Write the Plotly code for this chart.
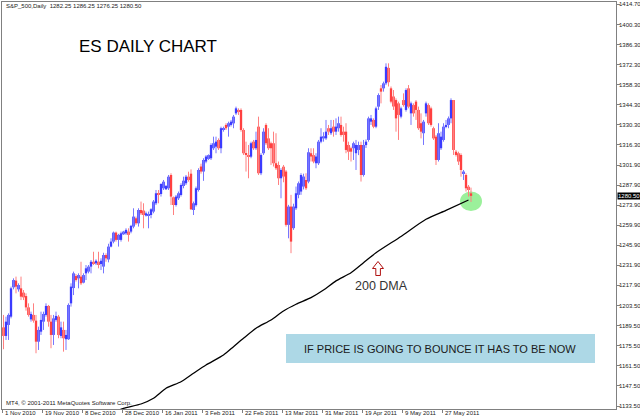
import plotly.graph_objects as go

# ---------------- data ----------------
open_ = [
    1188.5, 1182.5, 1190.2, 1196.0, 1216.5, 1221.2, 1215.1, 1215.8, 1212.8, 1210.4,
    1202.5, 1194.1, 1197.2, 1193.2, 1178.5, 1185.5, 1192.5, 1197.2, 1203.5, 1192.5,
    1183.2, 1193.7, 1196.0, 1182.5, 1186.7, 1180.2, 1180.2, 1205.3, 1216.0, 1224.4,
    1222.8, 1224.0, 1219.8, 1226.3, 1227.5, 1231.0, 1234.4, 1233.3, 1234.4, 1232.8,
    1231.0, 1239.1, 1236.0, 1245.0, 1248.5, 1254.8, 1249.7, 1249.7, 1253.6, 1254.3,
    1255.5, 1255.5, 1259.0, 1264.8, 1261.3, 1270.6, 1270.2, 1266.7, 1266.7, 1267.1,
    1269.5, 1275.3, 1282.3, 1281.8, 1285.8, 1285.1, 1285.8, 1295.1, 1279.5, 1274.1,
    1278.8, 1281.1, 1287.4, 1289.3, 1293.9, 1296.0, 1270.6, 1274.0, 1284.6, 1301.0,
    1297.5, 1304.5, 1306.3, 1306.8, 1313.8, 1314.9, 1319.6, 1313.8, 1326.6, 1330.1,
    1328.9, 1330.1, 1331.2, 1338.2, 1340.6, 1340.6, 1326.6, 1310.3, 1309.1, 1307.9,
    1318.4, 1313.8, 1328.9, 1296.3, 1310.3, 1330.1, 1320.7, 1317.3, 1317.3, 1303.3,
    1302.1, 1292.8, 1300.9, 1297.5, 1260.2, 1273.0, 1257.9, 1271.8, 1281.2, 1283.5,
    1287.0, 1291.6, 1290.5, 1310.3, 1309.0, 1303.3, 1303.3, 1318.4, 1320.7, 1320.7,
    1327.8, 1324.3, 1328.9, 1325.4, 1327.8, 1330.1, 1325.4, 1325.4, 1316.1, 1313.8,
    1313.8, 1310.3, 1312.6, 1316.1, 1295.1, 1316.0, 1319.6, 1332.4, 1333.6, 1328.9,
    1342.9, 1355.7, 1355.7, 1359.2, 1370.0, 1355.7, 1350.0, 1347.5, 1345.2, 1335.9,
    1347.5, 1340.6, 1355.7, 1338.2, 1344.0, 1346.4, 1340.6, 1331.3, 1324.3, 1338.2,
    1344.0, 1341.7, 1327.8, 1321.9, 1305.6, 1313.8, 1319.6, 1329.0, 1330.1, 1334.7,
    1347.5, 1311.4, 1310.3, 1309.1, 1296.3, 1295.1, 1286.9, 1282.25]

high = [
    1197.2, 1196.0, 1198.3, 1217.0, 1222.8, 1224.0, 1219.3, 1224.0, 1214.6, 1212.3,
    1205.3, 1199.5, 1205.3, 1197.2, 1189.0, 1199.5, 1199.5, 1205.3, 1204.2, 1197.2,
    1197.2, 1199.5, 1197.2, 1192.5, 1192.5, 1186.7, 1205.3, 1219.3, 1227.5, 1225.8,
    1226.3, 1234.4, 1226.3, 1232.1, 1232.1, 1235.6, 1241.4, 1236.1, 1241.4, 1236.8,
    1240.7, 1240.3, 1247.0, 1250.8, 1255.5, 1255.5, 1253.9, 1255.5, 1256.0, 1257.8,
    1257.8, 1260.2, 1271.8, 1266.0, 1271.8, 1276.5, 1275.3, 1269.5, 1269.5, 1271.8,
    1277.6, 1284.6, 1284.6, 1289.3, 1291.6, 1288.1, 1295.1, 1296.3, 1280.0, 1281.1,
    1283.5, 1289.3, 1293.9, 1295.1, 1297.4, 1299.0, 1276.5, 1287.0, 1299.8, 1303.0,
    1306.8, 1309.0, 1309.5, 1317.3, 1321.9, 1321.9, 1320.7, 1328.9, 1328.9, 1331.3,
    1332.4, 1333.6, 1337.1, 1342.9, 1341.7, 1341.7, 1327.8, 1318.4, 1316.1, 1318.4,
    1319.6, 1325.4, 1335.9, 1310.3, 1327.8, 1331.3, 1327.8, 1318.4, 1325.4, 1324.3,
    1304.5, 1299.8, 1302.1, 1298.6, 1274.2, 1281.2, 1275.0, 1287.0, 1290.5, 1296.3,
    1296.0, 1296.3, 1313.8, 1313.8, 1313.8, 1310.3, 1319.6, 1327.8, 1325.0, 1333.6,
    1330.1, 1333.6, 1333.6, 1334.7, 1335.9, 1335.9, 1328.9, 1331.3, 1318.4, 1314.9,
    1318.4, 1319.6, 1318.4, 1318.4, 1319.6, 1320.0, 1335.9, 1337.1, 1334.7, 1342.9,
    1352.2, 1358.0, 1360.4, 1373.2, 1373.2, 1357.0, 1354.5, 1348.7, 1346.4, 1342.9,
    1352.2, 1355.7, 1358.0, 1346.4, 1345.2, 1347.5, 1342.9, 1338.2, 1333.6, 1346.4,
    1345.2, 1342.9, 1328.9, 1323.1, 1331.3, 1325.4, 1331.3, 1333.6, 1336.0, 1348.7,
    1347.5, 1312.6, 1311.4, 1310.3, 1298.6, 1296.3, 1288.1, 1286.25]

low = [
    1173.2, 1179.7, 1179.7, 1194.8, 1215.1, 1212.3, 1213.5, 1207.6, 1207.6, 1200.2,
    1196.0, 1192.5, 1191.8, 1170.4, 1172.7, 1183.2, 1186.7, 1196.0, 1189.0, 1173.9,
    1176.2, 1192.5, 1180.9, 1180.9, 1171.5, 1172.7, 1179.7, 1203.0, 1211.1, 1220.5,
    1215.8, 1218.1, 1219.3, 1221.6, 1226.3, 1226.3, 1232.1, 1232.1, 1229.8, 1228.6,
    1226.3, 1234.4, 1234.0, 1244.5, 1247.3, 1248.5, 1245.0, 1248.5, 1253.2, 1253.2,
    1248.5, 1254.3, 1257.8, 1260.2, 1259.0, 1267.1, 1257.8, 1266.0, 1257.8, 1264.8,
    1268.3, 1274.1, 1275.3, 1280.0, 1284.6, 1284.6, 1284.6, 1274.1, 1267.1, 1273.0,
    1277.6, 1280.0, 1285.8, 1288.1, 1290.4, 1270.6, 1267.1, 1273.0, 1283.5, 1296.0,
    1291.0, 1303.3, 1305.6, 1305.6, 1312.6, 1310.3, 1312.6, 1310.3, 1325.4, 1326.6,
    1321.9, 1329.0, 1327.8, 1337.1, 1337.1, 1325.4, 1309.1, 1297.5, 1292.8, 1306.8,
    1312.6, 1312.6, 1295.1, 1295.0, 1309.1, 1316.1, 1312.6, 1302.1, 1301.0, 1298.6,
    1288.1, 1278.8, 1290.0, 1259.0, 1250.8, 1240.4, 1256.7, 1270.6, 1278.8, 1281.2,
    1285.0, 1284.6, 1289.3, 1304.5, 1303.3, 1299.8, 1302.1, 1317.3, 1318.4, 1319.6,
    1323.1, 1323.1, 1321.9, 1323.1, 1325.4, 1321.9, 1318.4, 1310.3, 1305.6, 1304.5,
    1305.6, 1298.6, 1309.0, 1290.5, 1294.0, 1314.0, 1318.4, 1330.1, 1327.8, 1327.8,
    1340.6, 1345.2, 1353.4, 1358.0, 1357.0, 1345.2, 1340.6, 1325.4, 1319.6, 1334.7,
    1342.9, 1339.4, 1341.7, 1330.1, 1335.9, 1333.6, 1326.6, 1320.7, 1316.1, 1335.9,
    1330.1, 1328.9, 1319.6, 1302.1, 1304.5, 1312.6, 1318.4, 1327.8, 1327.8, 1331.3,
    1309.1, 1308.0, 1302.1, 1293.9, 1291.6, 1283.5, 1280.0, 1276.25]

close = [
    1182.5, 1192.5, 1197.2, 1215.8, 1221.6, 1217.0, 1218.1, 1210.0, 1209.5, 1202.5,
    1197.2, 1197.9, 1193.2, 1178.5, 1186.7, 1193.7, 1197.9, 1203.5, 1192.5, 1183.2,
    1194.8, 1196.5, 1183.2, 1188.5, 1180.9, 1183.2, 1204.2, 1217.0, 1226.3, 1221.6,
    1225.1, 1219.3, 1225.1, 1229.8, 1231.0, 1234.4, 1233.3, 1235.1, 1232.1, 1235.1,
    1239.1, 1236.8, 1245.0, 1248.5, 1254.8, 1249.7, 1253.2, 1254.3, 1255.5, 1256.7,
    1253.2, 1259.5, 1266.0, 1261.3, 1270.6, 1268.3, 1267.1, 1268.3, 1267.4, 1271.1,
    1276.5, 1282.3, 1281.1, 1288.8, 1290.4, 1287.4, 1293.9, 1280.0, 1274.1, 1280.0,
    1282.3, 1288.1, 1291.1, 1293.9, 1291.6, 1271.1, 1275.3, 1285.8, 1298.6, 1297.5,
    1305.6, 1308.0, 1309.0, 1316.1, 1317.3, 1318.4, 1313.8, 1327.8, 1327.8, 1327.8,
    1331.3, 1332.4, 1335.9, 1341.7, 1339.4, 1326.6, 1310.3, 1309.1, 1307.9, 1317.3,
    1313.8, 1319.6, 1296.3, 1309.1, 1325.4, 1317.3, 1313.8, 1313.8, 1303.3, 1299.8,
    1292.8, 1298.6, 1294.0, 1260.2, 1273.0, 1248.5, 1273.0, 1282.3, 1289.3, 1295.1,
    1294.0, 1285.8, 1311.0, 1308.0, 1304.5, 1308.0, 1318.4, 1321.9, 1322.2, 1325.4,
    1325.4, 1327.8, 1325.4, 1328.9, 1331.3, 1323.1, 1323.1, 1312.6, 1311.4, 1311.4,
    1317.3, 1316.1, 1316.1, 1295.1, 1316.1, 1318.4, 1334.7, 1334.7, 1328.9, 1341.7,
    1351.0, 1353.4, 1359.2, 1370.8, 1360.0, 1346.4, 1343.0, 1334.7, 1337.1, 1341.7,
    1344.0, 1354.5, 1342.9, 1345.2, 1338.2, 1340.6, 1327.8, 1325.4, 1332.4, 1345.2,
    1331.3, 1330.1, 1320.7, 1305.6, 1324.3, 1321.9, 1328.9, 1330.1, 1334.7, 1347.5,
    1312.6, 1309.1, 1304.5, 1298.6, 1297.5, 1285.8, 1284.6, 1280.5]

# 200-day moving average, read at a few bar positions
dma_bar = [44, 48, 55, 60, 65, 71, 76, 81, 88, 92, 96, 101, 107, 112, 117,
           123, 128, 133, 139, 144, 149, 159, 169, 177, 186]
dma_val = [1129.0, 1131.9, 1134.9, 1138.9, 1145.9, 1150.5, 1156.4, 1162.2,
           1169.2, 1175.0, 1180.9, 1187.9, 1193.7, 1200.0, 1204.7, 1209.3,
           1214.6, 1221.0, 1226.7, 1233.7, 1240.7, 1252.1, 1264.1, 1270.3, 1277.6]

# x axis: one date label every 16 bars
label_every = 16
date_labels = ["1 Nov 2010", "19 Nov 2010", "8 Dec 2010", "28 Dec 2010",
               "16 Jan 2011", "3 Feb 2011", "22 Feb 2011", "13 Mar 2011",
               "31 Mar 2011", "19 Apr 2011", "9 May 2011", "27 May 2011"]

# right price axis labels
price_ticks = [1414.70, 1400.30, 1386.30, 1372.30, 1358.30, 1344.30, 1330.30,
               1316.30, 1301.90, 1287.90, 1273.90, 1259.90, 1245.90, 1231.90,
               1217.90, 1203.50, 1189.50, 1175.50, 1161.50, 1147.50, 1133.50]

symbol = "S&P_500,Daily"
title_text = "ES DAILY CHART"
dma_text = "200 DMA"
note_text = "IF PRICE IS GOING TO BOUNCE IT HAS TO BE NOW"
copyright_text = "MT4, \u00a9 2001-2011 MetaQuotes Software Corp."

# ---------------- layout geometry ----------------
W, H = 640, 419
ML, MR, MT, MB = 2, 24, 2, 10
PW, PH = W - ML - MR, H - MT - MB


def px(x):
    return (x - ML) / PW


def py(y):
    return (H - MB - y) / PH


FONT = "Liberation Sans, Arial, sans-serif"
SMALL = dict(family=FONT, size=6, color="#222222")

idx = list(range(len(close)))
up = [i for i in idx if close[i] >= open_[i]]
dn = [i for i in idx if close[i] < open_[i]]


def wicks(ids):
    xs, ys = [], []
    for i in ids:
        xs += [i, i, None]
        ys += [low[i], high[i], None]
    return xs, ys


def bodies(ids):
    base = [min(open_[i], close[i]) for i in ids]
    hgt = [max(abs(close[i] - open_[i]), 0.7) for i in ids]
    return base, hgt


fig = go.Figure()

for ids, wc in ((up, "#7676ff"), (dn, "#ff8080")):
    xs, ys = wicks(ids)
    fig.add_trace(go.Scatter(x=xs, y=ys, mode="lines",
                             line=dict(color=wc, width=1),
                             hoverinfo="skip", showlegend=False))

for ids, bc in ((up, "#0000ff"), (dn, "#ff0000")):
    base, hgt = bodies(ids)
    fig.add_trace(go.Bar(x=ids, y=hgt, base=base, width=0.9,
                         marker=dict(color=bc, line=dict(width=0)),
                         hoverinfo="skip", showlegend=False))

fig.add_trace(go.Scatter(x=dma_bar, y=dma_val, mode="lines",
                         line=dict(color="#000000", width=1.3, shape="spline",
                                   smoothing=0.6),
                         hoverinfo="skip", showlegend=False))

tick_pos = [k * label_every - 0.5 for k in range(len(date_labels))]

annotations = []
for pos, lab in zip(tick_pos, date_labels):
    annotations.append(dict(x=pos, y=0, xref="x", yref="paper", text=lab,
                            showarrow=False, xanchor="left", yanchor="top",
                            xshift=1, yshift=1, font=SMALL))

for v in price_ticks:
    annotations.append(dict(x=1, y=v, xref="paper", yref="y", text=f"{v:.2f}",
                            showarrow=False, xanchor="left", yanchor="middle",
                            xshift=1, font=SMALL))

annotations += [
    dict(x=px(4), y=py(6), xref="paper", yref="paper",
         text=f"{symbol}  {open_[-1]:.2f} {high[-1]:.2f} {low[-1]:.2f} {close[-1]:.2f}",
         showarrow=False, xanchor="left", yanchor="middle", font=SMALL),
    dict(x=px(4), y=py(403), xref="paper", yref="paper", text=copyright_text,
         showarrow=False, xanchor="left", yanchor="middle", font=SMALL),
    dict(x=px(148), y=py(47), xref="paper", yref="paper", text=title_text,
         showarrow=False, xanchor="center", yanchor="middle",
         font=dict(family=FONT, size=17, color="#000000")),
    dict(x=px(381), y=py(286), xref="paper", yref="paper", text=dma_text,
         showarrow=False, xanchor="center", yanchor="middle",
         font=dict(family=FONT, size=12.5, color="#333333")),
    dict(x=px(440), y=py(348.5), xref="paper", yref="paper", text=note_text,
         showarrow=False, xanchor="center", yanchor="middle",
         font=dict(family=FONT, size=11, color="#1a1a1a")),
    dict(x=1, y=close[-1], xref="paper", yref="y", text=f"{close[-1]:.2f}",
         showarrow=False, xanchor="left", yanchor="middle", xshift=1,
         bgcolor="#000000", borderpad=0,
         font=dict(family=FONT, size=6, color="#ffffff")),
]

arrow_pts = [(378, 261.5), (372.5, 268.5), (375.8, 268.5), (375.8, 275.5),
             (380.4, 275.5), (380.4, 268.5), (383.5, 268.5)]
arrow_path = "M " + " L ".join(f"{px(a):.5f},{py(b):.5f}" for a, b in arrow_pts) + " Z"

shapes = [
    dict(type="rect", xref="paper", yref="paper", x0=px(286), x1=px(595),
         y0=py(363), y1=py(334), fillcolor="#add8e6", line=dict(width=0),
         layer="below"),
    dict(type="circle", xref="paper", yref="paper", x0=px(460), x1=px(482),
         y0=py(211), y1=py(191.5), fillcolor="#90ee90", opacity=0.9,
         line=dict(width=0), layer="below"),
    dict(type="path", xref="paper", yref="paper", path=arrow_path,
         fillcolor="#ffffff", line=dict(color="#b01010", width=1)),
]

fig.update_layout(
    width=W, height=H,
    margin=dict(l=ML, r=MR, t=MT, b=MB, pad=0),
    paper_bgcolor="#ffffff", plot_bgcolor="#ffffff",
    barmode="overlay", showlegend=False,
    annotations=annotations, shapes=shapes,
    xaxis=dict(range=[-0.6, 245], showgrid=False, zeroline=False,
               showline=True, linecolor="#808080", linewidth=1, mirror=True,
               ticks="outside", ticklen=3, tickcolor="#808080",
               tickvals=tick_pos, showticklabels=False, automargin=False,
               fixedrange=True),
    yaxis=dict(range=[1131.4, 1416.1], side="right", showgrid=False,
               zeroline=False, showline=True, linecolor="#808080", linewidth=1,
               mirror=True, ticks="outside", ticklen=3, tickcolor="#808080",
               tickvals=price_ticks, showticklabels=False, automargin=False,
               fixedrange=True),
)

fig.write_html("out.html", config=dict(displayModeBar=False),
               post_script="document.body.style.margin='0px';"
                           "document.body.style.overflow='hidden';")
